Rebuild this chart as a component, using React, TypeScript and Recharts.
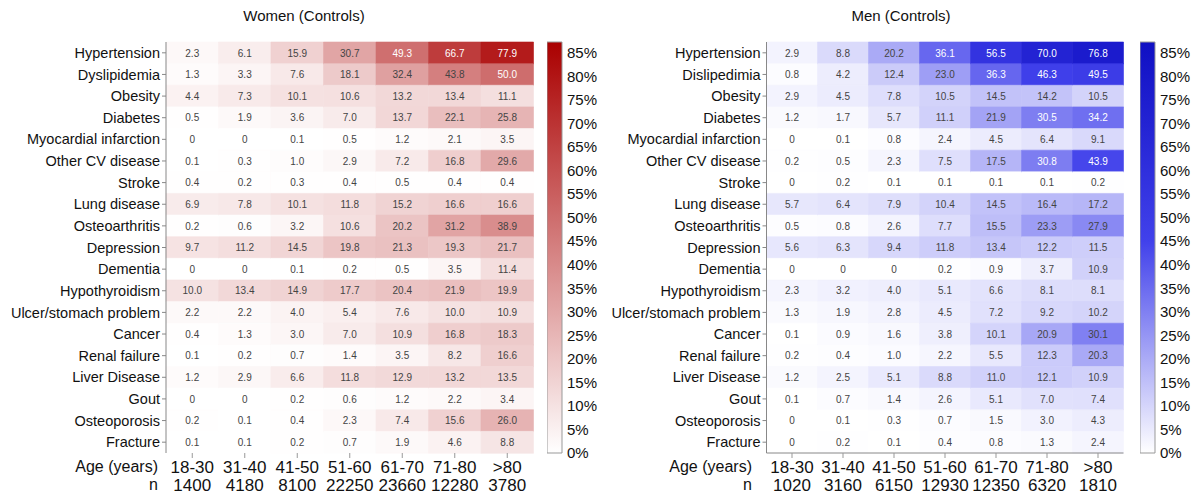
import React from "react";
import { BarChart, Bar, XAxis, YAxis, Cell, LabelList } from "recharts";

// categories / labels
const diseasesWomen = [
  "Hypertension", "Dyslipidemia", "Obesity", "Diabetes", "Myocardial infarction",
  "Other CV disease", "Stroke", "Lung disease", "Osteoarthritis", "Depression",
  "Dementia", "Hypothyroidism", "Ulcer/stomach problem", "Cancer", "Renal failure",
  "Liver Disease", "Gout", "Osteoporosis", "Fracture",
];
const diseasesMen = [
  "Hypertension", "Dislipedimia", "Obesity", "Diabetes", "Myocardial infarction",
  "Other CV disease", "Stroke", "Lung disease", "Osteoarthritis", "Depression",
  "Dementia", "Hypothyroidism", "Ulcer/stomach problem", "Cancer", "Renal failure",
  "Liver Disease", "Gout", "Osteoporosis", "Fracture",
];
const ageGroups = ["18-30", "31-40", "41-50", "51-60", "61-70", "71-80", ">80"];
const nWomen = [1400, 4180, 8100, 22250, 23660, 12280, 3780];
const nMen = [1020, 3160, 6150, 12930, 12350, 6320, 1810];
const colorTicks = [0, 5, 10, 15, 20, 25, 30, 35, 40, 45, 50, 55, 60, 65, 70, 75, 80, 85];

// prevalence (%) per disease row, per age column
const womenValues = [
  [2.3, 6.1, 15.9, 30.7, 49.3, 66.7, 77.9],
  [1.3, 3.3, 7.6, 18.1, 32.4, 43.8, 50.0],
  [4.4, 7.3, 10.1, 10.6, 13.2, 13.4, 11.1],
  [0.5, 1.9, 3.6, 7.0, 13.7, 22.1, 25.8],
  [0, 0, 0.1, 0.5, 1.2, 2.1, 3.5],
  [0.1, 0.3, 1.0, 2.9, 7.2, 16.8, 29.6],
  [0.4, 0.2, 0.3, 0.4, 0.5, 0.4, 0.4],
  [6.9, 7.8, 10.1, 11.8, 15.2, 16.6, 16.6],
  [0.2, 0.6, 3.2, 10.6, 20.2, 31.2, 38.9],
  [9.7, 11.2, 14.5, 19.8, 21.3, 19.3, 21.7],
  [0, 0, 0.1, 0.2, 0.5, 3.5, 11.4],
  [10.0, 13.4, 14.9, 17.7, 20.4, 21.9, 19.9],
  [2.2, 2.2, 4.0, 5.4, 7.6, 10.0, 10.9],
  [0.4, 1.3, 3.0, 7.0, 10.9, 16.8, 18.3],
  [0.1, 0.2, 0.7, 1.4, 3.5, 8.2, 16.6],
  [1.2, 2.9, 6.6, 11.8, 12.9, 13.2, 13.5],
  [0, 0, 0.2, 0.6, 1.2, 2.2, 3.4],
  [0.2, 0.1, 0.4, 2.3, 7.4, 15.6, 26.0],
  [0.1, 0.1, 0.2, 0.7, 1.9, 4.6, 8.8],
];
const menValues = [
  [2.9, 8.8, 20.2, 36.1, 56.5, 70.0, 76.8],
  [0.8, 4.2, 12.4, 23.0, 36.3, 46.3, 49.5],
  [2.9, 4.5, 7.8, 10.5, 14.5, 14.2, 10.5],
  [1.2, 1.7, 5.7, 11.1, 21.9, 30.5, 34.2],
  [0, 0.1, 0.8, 2.4, 4.5, 6.4, 9.1],
  [0.2, 0.5, 2.3, 7.5, 17.5, 30.8, 43.9],
  [0, 0.2, 0.1, 0.1, 0.1, 0.1, 0.2],
  [5.7, 6.4, 7.9, 10.4, 14.5, 16.4, 17.2],
  [0.5, 0.8, 2.6, 7.7, 15.5, 23.3, 27.9],
  [5.6, 6.3, 9.4, 11.8, 13.4, 12.2, 11.5],
  [0, 0, 0, 0.2, 0.9, 3.7, 10.9],
  [2.3, 3.2, 4.0, 5.1, 6.6, 8.1, 8.1],
  [1.3, 1.9, 2.8, 4.5, 7.2, 9.2, 10.2],
  [0.1, 0.9, 1.6, 3.8, 10.1, 20.9, 30.1],
  [0.2, 0.4, 1.0, 2.2, 5.5, 12.3, 20.3],
  [1.2, 2.5, 5.1, 8.8, 11.0, 12.1, 10.9],
  [0.1, 0.7, 1.4, 2.6, 5.1, 7.0, 7.4],
  [0, 0.1, 0.3, 0.7, 1.5, 3.0, 4.3],
  [0, 0.2, 0.1, 0.4, 0.8, 1.3, 2.4],
];

const FONT = '"Liberation Sans", Arial, Helvetica, sans-serif';
const SCALE_MAX = 87.3;

type RGB = [number, number, number];
const redStops: [number, RGB][] = [
  [0, [255, 255, 255]],
  [SCALE_MAX, [170, 0, 0]],
];
const blueStops: [number, RGB][] = [
  [0, [255, 255, 255]],
  [45, [65, 65, 235]],
  [SCALE_MAX, [15, 15, 195]],
];

function rgbAt(stops: [number, RGB][], v: number): RGB {
  for (let i = 1; i < stops.length; i++) {
    const [v0, c0] = stops[i - 1];
    const [v1, c1] = stops[i];
    if (v <= v1 || i === stops.length - 1) {
      const t = Math.max(0, Math.min(1, (v - v0) / (v1 - v0)));
      return [0, 1, 2].map((k) => Math.round(c0[k] + (c1[k] - c0[k]) * t)) as RGB;
    }
  }
  return stops[0][1];
}
const colorAt = (stops: [number, RGB][], v: number) => {
  const [r, g, b] = rgbAt(stops, v);
  return `rgb(${r},${g},${b})`;
};
const isDark = (stops: [number, RGB][], v: number) => {
  const [r, g, b] = rgbAt(stops, v);
  return (0.299 * r + 0.587 * g + 0.114 * b) / 255 < 0.55;
};

const fmt = (v: number) => (v === 0 ? "0" : v.toFixed(1));

const AgeTick = ({ x, y, payload, ns }: any) => {
  const i = Math.floor(payload.value);
  return (
    <g fontFamily={FONT} fontSize={17} fill="#111">
      <text x={x} y={y + 13} textAnchor="middle">{ageGroups[i]}</text>
      <text x={x} y={y + 31} textAnchor="middle">{ns[i]}</text>
    </g>
  );
};

const CellText = ({ x, y, width, height, value, stops }: any) => (
  <text
    x={x + width / 2}
    y={y + height / 2}
    dominantBaseline="central"
    textAnchor="middle"
    fontSize={10}
    fontFamily={FONT}
    fill={isDark(stops, value) ? "#ffffff" : "#444"}
  >
    {fmt(value)}
  </text>
);

function Heatmap({ left, axisWidth, plotRight, diseases, values, ns, stops, boxed }: any) {
  const rows = diseases.map((name: string, r: number) => {
    const row: any = { name };
    values[r].forEach((v: number, c: number) => {
      row[`w${c}`] = 1;
      row[`v${c}`] = v;
    });
    return row;
  });
  const rightMargin = 7;
  const width = plotRight - left + rightMargin;
  const ticks = ageGroups.map((_, i) => i + 0.5);
  return (
    <div style={{ position: "absolute", left, top: 0 }}>
      <BarChart
        width={width}
        height={494}
        data={rows}
        layout="vertical"
        barCategoryGap={0}
        barGap={0}
        margin={{ top: 42, right: rightMargin, bottom: 0, left: 0 }}
      >
        <XAxis
          type="number"
          domain={[0, ageGroups.length]}
          ticks={ticks}
          interval={0}
          height={41}
          tickSize={5}
          tickMargin={2}
          tickLine={{ stroke: "#999" }}
          axisLine={boxed ? { stroke: "#888" } : false}
          tick={<AgeTick ns={ns} />}
        />
        {boxed && (
          <XAxis
            xAxisId="top"
            orientation="top"
            type="number"
            domain={[0, ageGroups.length]}
            height={0}
            tick={false}
            tickLine={false}
            axisLine={{ stroke: "#888" }}
          />
        )}
        <YAxis
          type="category"
          dataKey="name"
          width={axisWidth}
          interval={0}
          tickSize={4}
          tickMargin={2}
          tickLine={{ stroke: "#888" }}
          axisLine={{ stroke: "#888" }}
          tick={{ fontSize: 14.5, fill: "#111", fontFamily: FONT }}
        />
        <YAxis
          yAxisId="right"
          orientation="right"
          type="category"
          dataKey="name"
          width={0}
          tick={false}
          tickLine={false}
          axisLine={{ stroke: "#888" }}
        />
        {ageGroups.map((_, c) => (
          <Bar key={c} dataKey={`w${c}`} stackId="s" isAnimationActive={false}>
            {rows.map((row: any, r: number) => (
              <Cell
                key={r}
                fill={colorAt(stops, row[`v${c}`])}
                stroke={colorAt(stops, row[`v${c}`])}
                strokeWidth={0.6}
              />
            ))}
            <LabelList dataKey={`v${c}`} content={(p: any) => <CellText {...p} stops={stops} />} />
          </Bar>
        ))}
      </BarChart>
    </div>
  );
}

function ColorBar({ left, stops, id }: any) {
  const gradStops = [0, 10, 20, 30, 40, 45, 50, 60, 70, 80, SCALE_MAX];
  return (
    <div style={{ position: "absolute", left, top: 0 }}>
      <BarChart
        width={62}
        height={494}
        data={[{ name: "scale", v: SCALE_MAX }]}
        barCategoryGap={0}
        margin={{ top: 42, right: 0, bottom: 41, left: 0 }}
      >
        <defs>
          <linearGradient id={id} x1="0" y1="1" x2="0" y2="0">
            {gradStops.map((s) => (
              <stop key={s} offset={s / SCALE_MAX} stopColor={colorAt(stops, s)} />
            ))}
          </linearGradient>
        </defs>
        <XAxis dataKey="name" hide />
        <YAxis
          orientation="right"
          width={47}
          domain={[0, SCALE_MAX]}
          ticks={colorTicks}
          interval={0}
          tickFormatter={(v: number) => `${v}%`}
          tickLine={false}
          axisLine={false}
          tickSize={0}
          tickMargin={5}
          tick={{ fontSize: 15, fill: "#111", fontFamily: FONT }}
        />
        <Bar dataKey="v" fill={`url(#${id})`} stroke="#999" strokeWidth={1} isAnimationActive={false} />
      </BarChart>
    </div>
  );
}

const textStyle: React.CSSProperties = {
  position: "absolute",
  fontFamily: FONT,
  color: "#111",
  whiteSpace: "nowrap",
};

export default function App() {
  return (
    <div style={{ position: "absolute", left: 0, top: 0, width: 1200, height: 494, background: "#fff", overflow: "hidden" }}>
      <Heatmap left={0} axisWidth={166} plotRight={533.5} diseases={diseasesWomen} values={womenValues} ns={nWomen} stops={redStops} boxed={false} />
      <ColorBar left={547} stops={redStops} id="gradWomen" />
      <Heatmap left={600} axisWidth={166.5} plotRight={1123.5} diseases={diseasesMen} values={menValues} ns={nMen} stops={blueStops} boxed />
      <ColorBar left={1140} stops={blueStops} id="gradMen" />

      <div style={{ ...textStyle, left: 154, width: 300, top: 7, fontSize: 15, lineHeight: "18px", textAlign: "center" }}>
        Women (Controls)
      </div>
      <div style={{ ...textStyle, left: 751, width: 300, top: 7, fontSize: 15, lineHeight: "18px", textAlign: "center" }}>
        Men (Controls)
      </div>

      <div style={{ ...textStyle, left: 0, width: 158, top: 457, fontSize: 16, lineHeight: "20px", textAlign: "right" }}>Age (years)</div>
      <div style={{ ...textStyle, left: 0, width: 158, top: 475, fontSize: 16, lineHeight: "20px", textAlign: "right" }}>n</div>
      <div style={{ ...textStyle, left: 600, width: 152, top: 457, fontSize: 16, lineHeight: "20px", textAlign: "right" }}>Age (years)</div>
      <div style={{ ...textStyle, left: 600, width: 152, top: 475, fontSize: 16, lineHeight: "20px", textAlign: "right" }}>n</div>
    </div>
  );
}
